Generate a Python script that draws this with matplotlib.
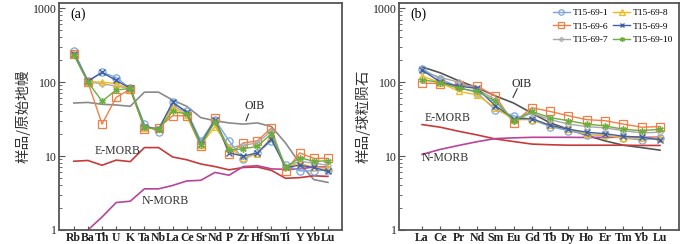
import matplotlib
matplotlib.use("Agg")
import matplotlib.pyplot as plt
import numpy as np

# ---------------- data ----------------
elems_a = ["Rb", "Ba", "Th", "U", "K", "Ta", "Nb", "La", "Ce", "Sr", "Nd", "P",
           "Zr", "Hf", "Sm", "Ti", "Y", "Yb", "Lu"]
elems_b = ["La", "Ce", "Pr", "Nd", "Sm", "Eu", "Gd", "Tb", "Dy", "Ho", "Er", "Tm", "Yb", "Lu"]

samples = ["T15-69-1", "T15-69-6", "T15-69-7", "T15-69-8", "T15-69-9", "T15-69-10"]

# primitive-mantle normalised (a)
a_s1 = [265, 103, 135, 115, 82, 27, 21, 53, 40, 16, 31, 16, 9, 11, 16, 7.6, 6.3, 6.3, 6.5]
a_s6 = [240, 100, 27, 62, 80, 23.5, 24, 35, 35, 13.5, 33, 10.5, 15, 16, 24, 6.2, 11, 9.3, 9.3]
a_s7 = [235, 100, 95, 88, 82, 25, 23, 48, 38, 15, 30, 13, 14, 15, 22, 7.2, 8.5, 8.0, 7.5]
a_s8 = [238, 101, 100, 95, 80, 24, 23, 45, 36, 14, 25, 13, 9.5, 10.5, 18, 7.0, 8.0, 7.0, 6.8]
a_s9 = [240, 103, 135, 105, 82, 25, 23, 53, 39, 14.5, 31, 11, 10, 11, 17, 7.0, 7.5, 7.0, 6.2]
a_s10 = [235, 100, 55, 78, 82, 24.5, 23, 40, 37, 14, 29, 12, 12.5, 13.5, 20, 7.0, 9.5, 8.5, 8.6]
a_oib = [52, 53, 50, 49, 47, 73, 73, 57, 47, 33, 30, 28, 27, 28, 25, 15, 8.0, 4.8, 4.4]
a_emorb = [8.5, 8.7, 7.5, 8.8, 8.4, 13, 13, 9.7, 8.9, 7.8, 7.2, 6.5, 7.0, 7.1, 6.4, 5.0, 5.1, 5.4, 5.3]
a_nmorb = [0.88, 1.0, 1.5, 2.35, 2.45, 3.6, 3.6, 4.0, 4.6, 4.7, 6.0, 5.5, 7.2, 7.4, 6.7, 6.6, 6.7, 7.1, 7.1]

# chondrite normalised (b)
b_s1 = [150, 110, 85, 72, 42, 35, 31, 25, 22, 19.5, 19, 17.5, 16.5, 17.5]
b_s6 = [97, 95, 90, 88, 65, 28, 45, 40, 35, 31, 30, 27, 24.5, 25]
b_s7 = [140, 115, 100, 80, 58, 30, 38, 31, 27, 25, 24, 22, 20.5, 21]
b_s8 = [120, 98, 75, 67, 45, 31, 31, 26, 23, 20, 19, 17.5, 17.5, 17.5]
b_s9 = [145, 100, 88, 82, 48, 32, 32, 26, 23, 21, 20, 18.5, 18, 16.5]
b_s10 = [108, 98, 82, 75, 55, 30, 40, 33, 30, 27, 25.5, 23, 22, 23]
b_oib = [160, 133, 104, 84, 65, 52, 38, 28, 23, 19, 16, 14, 13, 12]
b_emorb = [26.6, 24.5, 21.6, 19.3, 17.0, 15.7, 14.5, 14.2, 14.0, 14.0, 14.0, 14.0, 13.9, 13.9]
b_nmorb = [10.5, 12.3, 13.9, 15.6, 17.2, 17.6, 17.9, 17.9, 17.9, 17.8, 17.9, 17.9, 17.9, 17.9]

# ---------------- style ----------------
plt.rcParams['font.family'] = ['Liberation Serif', 'Noto Sans CJK SC', 'DejaVu Sans']

styles = {
    "T15-69-1": dict(color="#7aa6dc", marker="o", ms=5.2, mfc="none", mew=0.9),
    "T15-69-6": dict(color="#f07f45", marker="s", ms=5.2, mfc="none", mew=0.9),
    "T15-69-7": dict(color="#a8a8a8", marker="D", ms=3.0, mfc="none", mew=0.8),
    "T15-69-8": dict(color="#f5b820", marker="^", ms=5.0, mfc="none", mew=0.9),
    "T15-69-9": dict(color="#3f5fa8", marker="x", ms=4.6, mew=1.0),
    "T15-69-10": dict(color="#6aae3e", marker=(6, 2, 0), ms=4.6, mew=1.0),
}

a_data = [a_s1, a_s6, a_s7, a_s8, a_s9, a_s10]
b_data = [b_s1, b_s6, b_s7, b_s8, b_s9, b_s10]

fig = plt.figure(figsize=(7.0, 2.44), dpi=100)
ax1 = fig.add_axes([59 / 700, 14 / 244, 283 / 700, 227 / 244])
ax2 = fig.add_axes([399 / 700, 14 / 244, 280 / 700, 227 / 244])

spine_c = "#555555"


def setup(ax, elems, xlim, ylabel):
    ax.set_yscale("log")
    ax.set_ylim(1, 1170)
    ax.set_xlim(*xlim)
    ax.set_xticks(range(len(elems)))
    ax.set_xticklabels(elems, fontsize=8.5, fontweight="bold", color="#222222")
    ax.set_yticks([1, 10, 100, 1000])
    ax.set_yticklabels(["1", "10", "100", "1000"], fontsize=8.5, color="#222222")
    ax.tick_params(axis="both", which="both", direction="in", color=spine_c)
    ax.tick_params(axis="x", length=3, pad=1.5)
    ax.tick_params(axis="y", which="major", length=4, pad=1.5)
    ax.tick_params(axis="y", which="minor", length=2)
    for s in ax.spines.values():
        s.set_color(spine_c)
        s.set_linewidth(1.3)
    ax.set_ylabel(ylabel, family=['Noto Sans CJK SC', 'DejaVu Sans'], fontsize=10.5,
                  color="#333333", labelpad=2)


setup(ax1, elems_a, (-1.05, 19.0), "样品/原始地幔")
setup(ax2, elems_b, (-1.26, 14.04), "样品/球粒陨石")

xa = np.arange(len(elems_a))
xb = np.arange(len(elems_b))

# reference curves
ax1.plot(xa, a_oib, color="#8a8a8a", lw=1.2, zorder=1)
ax1.plot(xa, a_emorb, color="#c83a3a", lw=1.2, zorder=1)
ax1.plot(xa, a_nmorb, color="#b8449c", lw=1.2, zorder=1)
ax2.plot(xb, b_oib, color="#555555", lw=1.2, zorder=1)
ax2.plot(xb, b_emorb, color="#c83a3a", lw=1.2, zorder=1)
ax2.plot(xb, b_nmorb, color="#b8449c", lw=1.2, zorder=1)

handles = []
for name, ya, yb in zip(samples, a_data, b_data):
    st = styles[name]
    ax1.plot(xa, ya, lw=1.0, zorder=3, **st)
    h, = ax2.plot(xb, yb, lw=1.0, zorder=3, label=name, **st)
    handles.append(h)

# annotations (a)
ax1.text(0.04, 0.95, "(a)", transform=ax1.transAxes, fontsize=10, va="center")
ax1.text(12.8, 47, "OIB", fontsize=8.5, va="center", ha="center", color="#222222")
ax1.plot([12.2, 12.38], [30, 37], color="#333333", lw=0.8)
ax1.text(1.5, 11.6, "E-MORB", fontsize=8.5, va="center", color="#333333")
ax1.text(4.8, 2.46, "N-MORB", fontsize=8.5, va="center", color="#333333")

# annotations (b)
ax2.text(0.04, 0.95, "(b)", transform=ax2.transAxes, fontsize=10, va="center")
ax2.text(5.46, 95, "OIB", fontsize=8.5, va="center", ha="center", color="#222222")
ax2.plot([4.97, 5.2], [62, 81], color="#333333", lw=0.8)
ax2.text(0.15, 33, "E-MORB", fontsize=8.5, va="center", color="#333333")
ax2.text(0.0, 9.3, "N-MORB", fontsize=8.5, va="center", color="#333333")

ax2.legend(handles=handles, ncol=2, loc="upper right", frameon=False, fontsize=6.8,
           handlelength=1.8, handletextpad=0.3, columnspacing=0.5, labelspacing=0.5,
           borderaxespad=0.1, borderpad=0.5, markerscale=0.75)

fig.savefig("out.png", dpi=100)
